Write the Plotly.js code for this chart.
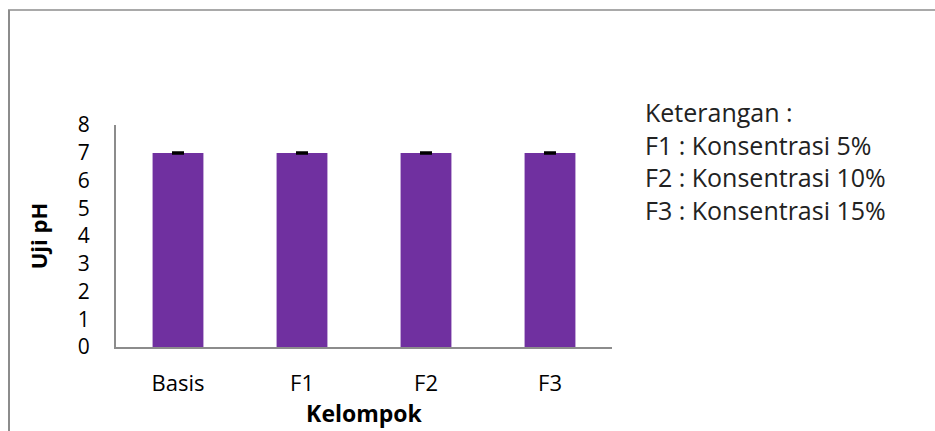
<!DOCTYPE html>
<html>
<head>
<meta charset="utf-8">
<script src="https://cdn.plot.ly/plotly-3.0.1.min.js"></script>
<style>html,body{margin:0;padding:0;background:#fff;}#chart{width:935px;height:431px;}</style>
</head>
<body>
<div id="chart"></div>
<script>
const categories = ["Basis", "F1", "F2", "F3"];
const phValues = [6.99, 6.99, 6.99, 6.99];
const phErrors = [0.03, 0.03, 0.03, 0.03];
const yTicks = [0, 1, 2, 3, 4, 5, 6, 7, 8];
const legendLines = ["Keterangan :", "F1 : Konsentrasi 5%", "F2 : Konsentrasi 10%", "F3 : Konsentrasi 15%"];

const W = 935, H = 431;
const L = 116, R = 612, T = 125, B = 347;
const px = x => (x - L) / (R - L);
const py = y => (B - y) / (B - T);

const font = "Open Sans, Noto Sans, sans-serif";

const trace = {
  type: "bar",
  x: categories,
  y: phValues,
  marker: { color: "#7030A0" },
  error_y: { type: "data", array: phErrors, visible: true, color: "#000", thickness: 2, width: 6 },
  hoverinfo: "none"
};

const annotations = legendLines.map((t, i) => ({
  xref: "paper", yref: "paper",
  x: px(643), y: py(112 + i * 32.7),
  xanchor: "left", yanchor: "middle",
  text: t, showarrow: false,
  font: { family: font, size: 25, color: "#222" }
}));

const layout = {
  width: W, height: H,
  margin: { l: L, r: W - R, t: T, b: H - B, pad: 0 },
  paper_bgcolor: "#fff", plot_bgcolor: "#fff",
  showlegend: false,
  bargap: 0.59,
  font: { family: font, color: "#000" },
  xaxis: {
    type: "category",
    showline: true, linecolor: "#8c8c8c", linewidth: 2,
    ticks: "", showgrid: false, zeroline: false,
    tickfont: { family: font, size: 22, color: "#000" },
    ticklabelstandoff: 16,
    title: { text: "<b>Kelompok</b>", font: { family: font, size: 23, color: "#000" }, standoff: 0 }
  },
  yaxis: {
    range: [0, 8], tickvals: yTicks,
    showline: true, linecolor: "#8c8c8c", linewidth: 2,
    ticks: "", showgrid: false, zeroline: false,
    tickfont: { family: font, size: 21, color: "#000" },
    ticklabelstandoff: 20,
    title: { text: "<b>Uji pH</b>", font: { family: font, size: 22, color: "#000" }, standoff: 24 }
  },
  annotations: annotations,
  shapes: [
    { type: "line", xref: "paper", yref: "paper", x0: px(8), x1: px(935), y0: py(10), y1: py(10), line: { color: "#8c8c8c", width: 1.5 } },
    { type: "line", xref: "paper", yref: "paper", x0: px(9), x1: px(9), y0: py(10), y1: py(431), line: { color: "#8c8c8c", width: 2 } }
  ]
};

Plotly.newPlot("chart", [trace], layout, { staticPlot: true, displayModeBar: false });
</script>
</body>
</html>
